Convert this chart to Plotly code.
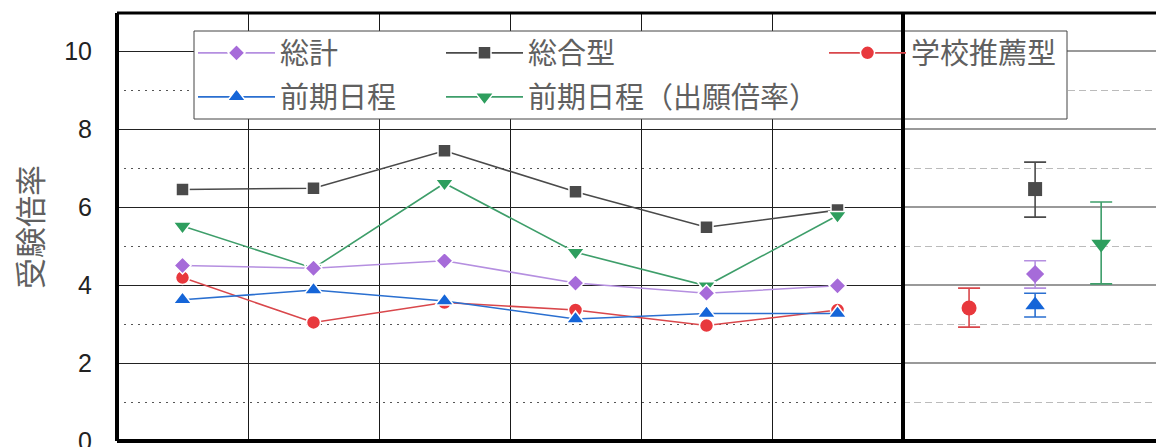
import plotly.graph_objects as go

# six years (tick labels are cropped out of the original picture)
years = [0, 1, 2, 3, 4, 5]

sokei = [4.50, 4.43, 4.62, 4.05, 3.79, 3.98]          # 総計
sogo = [6.45, 6.48, 7.44, 6.39, 5.48, 5.92]           # 総合型
suisen = [4.19, 3.04, 3.55, 3.36, 2.96, 3.36]         # 学校推薦型
zenki = [3.62, 3.87, 3.59, 3.13, 3.27, 3.27]          # 前期日程
zenki_app = [5.51, 4.43, 6.61, 4.84, 3.98, 5.78]      # 前期日程（出願倍率）

# summary panel on the right (mean with spread)
summary_names = ["総合型", "学校推薦型", "前期日程（出願倍率）", "前期日程", "総計"]
summary_cat = [1, 0, 2, 1, 1]
summary_mean = [6.46, 3.41, 5.05, 3.49, 4.28]
summary_plus = [0.69, 0.51, 1.08, 0.30, 0.34]
summary_minus = [0.72, 0.49, 1.02, 0.31, 0.36]

W, H = 1156, 447
L, T, B = 117, 13, 6
PW = W - L
PH = H - T - B
split = (903 - L) / PW

def px(x):
    return (x - L) / PW

def py(y):
    return (H - B - y) / PH

jp = "Noto Sans CJK JP"

# name, values, color, line color, symbol, size, legend, legend pos (x px, y px)
series = [
    ("総合型", sogo, "#4a4a4a", "#4a4a4a", "square", 13, "legend2", 446, 53),
    ("学校推薦型", suisen, "#e8383d", "#d9474b", "circle", 14, "legend3", 829, 53),
    ("前期日程（出願倍率）", zenki_app, "#2e9e5e", "#3e9e6a", "triangle-down", 16, "legend5", 446, 97),
    ("前期日程", zenki, "#1565d8", "#2a6fd0", "triangle-up", 16, "legend4", 198, 97),
    ("総計", sokei, "#a66bd9", "#b58fe0", "diamond", 13, "legend", 198, 53),
]

fig = go.Figure()
legends = {}
for name, vals, col, lcol, sym, size, leg, lx, ly in series:
    fig.add_trace(go.Scatter(
        x=years, y=vals, name=name, mode="lines+markers",
        line=dict(color=lcol, width=1.6),
        marker=dict(symbol=sym, size=size, color=col, line=dict(color="white", width=1.5)),
        legend=leg, xaxis="x", yaxis="y",
    ))
    legends[leg] = dict(
        x=px(lx - 5), y=py(ly), xanchor="left", yanchor="middle",
        bgcolor="rgba(0,0,0,0)", borderwidth=0, itemwidth=77,
        font=dict(family=jp, size=29, color="#606060"),
    )

colors = {s[0]: s for s in series}
for name, cat, m, p, mi in zip(summary_names, summary_cat, summary_mean, summary_plus, summary_minus):
    _, _, col, lcol, sym, size, _, _, _ = colors[name]
    fig.add_trace(go.Scatter(
        x=[cat], y=[m], mode="markers", showlegend=False,
        marker=dict(symbol=sym, size=size + 1, color=col),
        error_y=dict(type="data", symmetric=False, array=[p], arrayminus=[mi],
                     color=lcol, thickness=1.6, width=11),
        xaxis="x2", yaxis="y2",
    ))

yrange = [0, PH / 39]

shapes = [
    # legend box
    dict(type="rect", xref="paper", yref="paper", x0=px(194), x1=px(1067), y0=py(119), y1=py(31),
         line=dict(color="#444", width=1), fillcolor="white", layer="above"),
    # frame
    dict(type="line", xref="paper", yref="paper", x0=0, x1=1, y0=1, y1=1, line=dict(color="black", width=3)),
    dict(type="line", xref="paper", yref="paper", x0=0, x1=1, y0=0, y1=0, line=dict(color="black", width=4)),
    dict(type="line", xref="paper", yref="paper", x0=0, x1=0, y0=0, y1=1, line=dict(color="black", width=4)),
    dict(type="line", xref="paper", yref="paper", x0=split, x1=split, y0=0, y1=1, line=dict(color="black", width=4)),
]

fig.update_layout(
    width=W, height=H,
    margin=dict(l=L, r=0, t=T, b=B, autoexpand=False),
    plot_bgcolor="white", paper_bgcolor="white",
    xaxis=dict(domain=[0, split], range=[-0.5, 5.5], tickvals=[0.5, 1.5, 2.5, 3.5, 4.5],
               showticklabels=False, showgrid=True, gridcolor="#1a1a1a", gridwidth=1.4,
               zeroline=False, showline=False),
    xaxis2=dict(domain=[split, 1], range=[-1.0, 2.83], showticklabels=False,
                showgrid=False, zeroline=False, showline=False),
    yaxis=dict(range=yrange, tickvals=[0, 2, 4, 6, 8, 10], showgrid=True, gridcolor="#222",
               gridwidth=1.2, zeroline=False, showline=False, ticks="",
               tickfont=dict(family="Liberation Sans", size=25, color="#222"),
               ticklabelstandoff=24, ticklabeloverflow="allow",
               minor=dict(tickvals=[1, 3, 5, 7, 9], showgrid=True, gridcolor="#555",
                          griddash="2px,5px", gridwidth=1)),
    yaxis2=dict(anchor="x2", range=yrange, tickvals=[0, 2, 4, 6, 8, 10], showticklabels=False,
                showgrid=True, gridcolor="#999", gridwidth=1.5, zeroline=False, showline=False,
                minor=dict(tickvals=[1, 3, 5, 7, 9], showgrid=True, gridcolor="#bbb",
                           griddash="7px,4px", gridwidth=1)),
    shapes=shapes,
    annotations=[dict(text="受験倍率", xref="paper", yref="paper", x=px(28), y=0.5,
                      xanchor="center", yanchor="middle", textangle=-90, showarrow=False,
                      font=dict(family=jp, size=31, color="#606060"))],
    **legends,
)

# the page would otherwise add an 8px body margin
fig.write_html("out.html", config={"displayModeBar": False},
               post_script="document.body.style.margin='0';")
